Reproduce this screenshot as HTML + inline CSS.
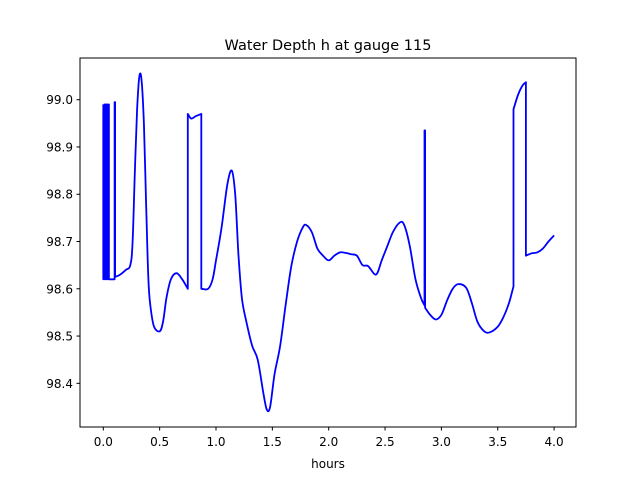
<!DOCTYPE html>
<html><head><meta charset="utf-8"><style>
body{margin:0;background:#fff}
svg{display:block;font-family:"DejaVu Sans","Liberation Sans",sans-serif}
</style></head><body>
<svg id="chart" width="640" height="480" xmlns="http://www.w3.org/2000/svg">
<rect width="640" height="480" fill="#fff"/>
<text x="328" y="50" text-anchor="middle" font-size="14.5">Water Depth h at gauge 115</text>
<g id="xt"></g>
<g id="yt"></g>
<text x="328" y="468" text-anchor="middle" font-size="12">hours</text>
<path id="line" fill="none" stroke="#0000ff" stroke-width="1.8" stroke-linejoin="round"/>
<rect x="80" y="58" width="496" height="369" fill="none" stroke="#000" stroke-width="1"/>
</svg>
<script>
const times=[0,0,0.01,0.01,0.02,0.02,0.03,0.03,0.04,0.04,0.05,0.05,0.1,0.1,0.105,0.105,0.15,0.2,0.24,0.26,0.28,0.30,0.32,0.34,0.36,0.38,0.40,0.42,0.45,0.5,0.53,0.56,0.60,0.65,0.70,0.75,0.75,0.78,0.82,0.87,0.87,0.93,0.97,1.0,1.05,1.10,1.14,1.17,1.2,1.23,1.27,1.32,1.37,1.42,1.45,1.48,1.52,1.57,1.62,1.67,1.72,1.77,1.80,1.85,1.9,1.95,2.0,2.05,2.1,2.15,2.2,2.25,2.3,2.35,2.42,2.47,2.52,2.57,2.63,2.67,2.72,2.77,2.82,2.85,2.85,2.855,2.855,2.9,2.95,3.0,3.05,3.1,3.15,3.22,3.27,3.32,3.38,3.43,3.5,3.55,3.6,3.64,3.64,3.68,3.72,3.75,3.75,3.8,3.85,3.9,3.95,4.0];
const depths=[98.99,98.62,98.99,98.62,98.99,98.62,98.99,98.62,98.99,98.62,98.99,98.62,98.62,98.995,98.995,98.625,98.63,98.64,98.65,98.7,98.85,98.98,99.05,99.04,98.95,98.78,98.62,98.56,98.52,98.51,98.53,98.58,98.62,98.633,98.62,98.60,98.97,98.96,98.965,98.97,98.60,98.60,98.62,98.66,98.73,98.82,98.85,98.80,98.67,98.58,98.53,98.48,98.45,98.38,98.345,98.35,98.42,98.48,98.57,98.65,98.70,98.73,98.735,98.72,98.685,98.67,98.66,98.67,98.677,98.676,98.673,98.67,98.65,98.648,98.63,98.66,98.69,98.72,98.74,98.735,98.69,98.62,98.58,98.565,98.935,98.935,98.56,98.545,98.535,98.545,98.575,98.6,98.61,98.602,98.57,98.53,98.51,98.508,98.52,98.54,98.57,98.605,98.98,99.01,99.03,99.037,98.67,98.675,98.677,98.685,98.70,98.713];
const xTicks=[0,0.5,1,1.5,2,2.5,3,3.5,4];
const xTickLabels=["0.0","0.5","1.0","1.5","2.0","2.5","3.0","3.5","4.0"];
const yTicks=[98.4,98.5,98.6,98.7,98.8,98.9,99.0];
const yTickLabels=["98.4","98.5","98.6","98.7","98.8","98.9","99.0"];
const X=t=>103.3+t*112.7;
const Y=v=>99.7+(99.0-v)*472.7;
const NS="http://www.w3.org/2000/svg";
const xt=document.getElementById('xt'),yt=document.getElementById('yt');
xTicks.forEach((t,i)=>{
 const l=document.createElementNS(NS,'line');
 
 
 l.setAttribute('x1',X(t));l.setAttribute('x2',X(t));l.setAttribute('y1',427);l.setAttribute('y2',430.5);l.setAttribute('stroke','#000');
 xt.appendChild(l);
 const s=document.createElementNS(NS,'text');
 
 
 s.setAttribute('x',X(t));s.setAttribute('y',446);s.setAttribute('text-anchor','middle');s.setAttribute('font-size','12');
 s.textContent=xTickLabels[i];xt.appendChild(s);
});
yTicks.forEach((v,i)=>{
 const l=document.createElementNS(NS,'line');
 
 
 l.setAttribute('x1',76.5);l.setAttribute('x2',80);l.setAttribute('y1',Y(v));l.setAttribute('y2',Y(v));l.setAttribute('stroke','#000');
 yt.appendChild(l);
 const s=document.createElementNS(NS,'text');
 
 
 s.setAttribute('x',73);s.setAttribute('y',Y(v)+4.5);s.setAttribute('text-anchor','end');s.setAttribute('font-size','12');
 s.textContent=yTickLabels[i];yt.appendChild(s);
});
// smooth path (Catmull-Rom) except across vertical jumps
const P=times.map((t,i)=>[X(t),Y(depths[i])]);
function tangent(i){
 const hasPrev=i>0&&times[i-1]!==times[i];
 const hasNext=i<times.length-1&&times[i+1]!==times[i];
 if(hasPrev&&hasNext)return[(P[i+1][0]-P[i-1][0])/2,(P[i+1][1]-P[i-1][1])/2];
 if(hasNext)return[P[i+1][0]-P[i][0],P[i+1][1]-P[i][1]];
 if(hasPrev)return[P[i][0]-P[i-1][0],P[i][1]-P[i-1][1]];
 return[0,0];
}
let d='M'+P[0][0].toFixed(1)+','+P[0][1].toFixed(1);
for(let i=0;i<P.length-1;i++){
 if(times[i]===times[i+1]){d+=' L'+P[i+1][0].toFixed(1)+','+P[i+1][1].toFixed(1);continue;}
 const a=tangent(i),b=tangent(i+1);
 const c1=[P[i][0]+a[0]/3,P[i][1]+a[1]/3],c2=[P[i+1][0]-b[0]/3,P[i+1][1]-b[1]/3];
 d+=' C'+c1[0].toFixed(1)+','+c1[1].toFixed(1)+' '+c2[0].toFixed(1)+','+c2[1].toFixed(1)+' '+P[i+1][0].toFixed(1)+','+P[i+1][1].toFixed(1);
}
document.getElementById('line').setAttribute('d',d);
</script>
</body></html>
